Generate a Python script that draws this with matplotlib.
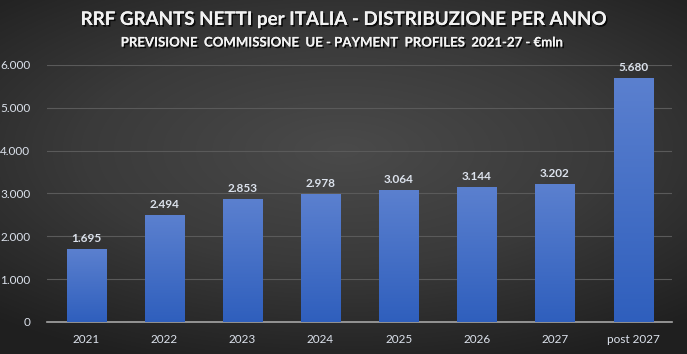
import numpy as np
import matplotlib
matplotlib.use("Agg")
import matplotlib.pyplot as plt
import matplotlib.patheffects as pe
from matplotlib.colors import LinearSegmentedColormap

# data
years = ["2021", "2022", "2023", "2024", "2025", "2026", "2027", "post 2027"]
grants = [1695, 2494, 2853, 2978, 3064, 3144, 3202, 5680]
yticks = [0, 1000, 2000, 3000, 4000, 5000, 6000]


def fmt_it(v):
    return f"{v:,.0f}".replace(",", ".")


plt.rcParams['font.family'] = ['Lato', 'DejaVu Sans']

fig = plt.figure(figsize=(6.87, 3.54), dpi=100)

# radial gradient background
bg = fig.add_axes([0, 0, 1, 1], zorder=-10)
yy, xx = np.mgrid[-1:1:354j, -1:1:687j]
r = np.sqrt((xx * 0.85) ** 2 + ((yy + 0.15) * 1.0) ** 2)
bg_cmap = LinearSegmentedColormap.from_list("bg", ["#4a4a4a", "#3a3a3a", "#1f1f1f"])
bg.imshow(r, cmap=bg_cmap, aspect="auto", extent=[0, 1, 0, 1], vmin=0, vmax=1.3)
bg.axis("off")

ax = fig.add_axes([0.0684, 0.0904, 0.91, 0.726])
ax.set_facecolor("none")
x = np.arange(len(years))
bars = ax.bar(x, grants, width=0.5, color="none", zorder=3)

# gradient fill on each bar
bar_cmap = LinearSegmentedColormap.from_list("bar", ["#2f5fbd", "#5b80cf"])
grad = np.linspace(0, 1, 256).reshape(-1, 1)
for b in bars:
    x0, w, h = b.get_x(), b.get_width(), b.get_height()
    ax.imshow(grad, cmap=bar_cmap, aspect="auto", origin="lower",
              extent=[x0, x0 + w, 0, h], zorder=3)

for xi, v in zip(x, grants):
    ax.text(xi, v + 130, fmt_it(v), ha="center", va="bottom",
            fontsize=8.5, color="#dce2ec", fontweight="bold")

ax.set_xlim(-0.5, len(years) - 0.5)
ax.set_ylim(0, 6000)
ax.set_xticks(x)
ax.set_xticklabels(years)
ax.set_yticks(yticks)
ax.set_yticklabels([fmt_it(t) for t in yticks])
ax.tick_params(axis="both", length=0, colors="#dce2ec", labelsize=8.5)
ax.tick_params(axis="x", pad=9)
ax.tick_params(axis="y", pad=12)
ax.grid(axis="y", color="#5a5a5a", linewidth=0.8, zorder=0)
for s in ["top", "right", "left"]:
    ax.spines[s].set_visible(False)
ax.spines["bottom"].set_color("#a6a6a6")
ax.spines["bottom"].set_linewidth(1.2)

shadow = [pe.withSimplePatchShadow(offset=(1.2, -1.2), shadow_rgbFace="black", alpha=0.8), pe.Normal()]
fig.text(0.5, 0.945, "RRF GRANTS NETTI per ITALIA - DISTRIBUZIONE PER ANNO",
         ha="center", va="center", fontsize=13.5, fontweight="bold",
         color="#f2f2f2", path_effects=shadow)
fig.text(0.5, 0.88, "PREVISIONE  COMMISSIONE  UE - PAYMENT  PROFILES  2021-27 - €mln",
         ha="center", va="center", fontsize=9.5, fontweight="bold",
         color="#f2f2f2", path_effects=shadow)

fig.savefig("out.png", dpi=100)
